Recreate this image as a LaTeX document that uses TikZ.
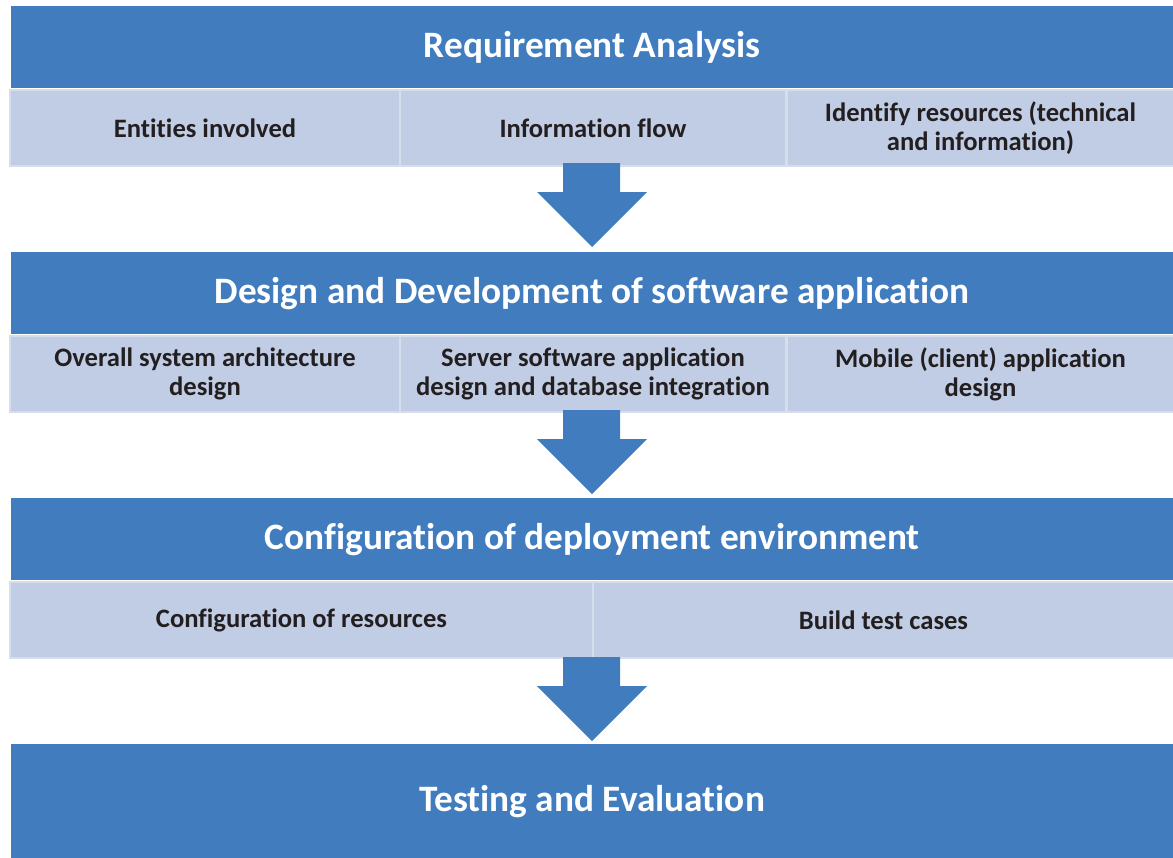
\documentclass[tikz,border=0pt]{standalone}
\usepackage{fontspec}
\setmainfont{Carlito}[Ligatures={NoCommon}]
\definecolor{mainblue}{RGB}{64,124,190}
\definecolor{subfill}{RGB}{192,205,228}
\definecolor{subedge}{RGB}{214,222,237}
\definecolor{txt}{RGB}{35,31,32}
\tikzset{
  titlebox/.style={fill=mainblue, draw=none, inner sep=0pt, text=white,
    font=\bfseries\fontsize{37.3}{42}\selectfont},
  subbox/.style={fill=subfill, draw=subedge, line width=2pt, inner sep=0pt,
    text=txt, align=center, font=\bfseries\fontsize{26.6}{29}\selectfont},
  blockarrow/.style={fill=mainblue, draw=white, line width=0.8pt, line join=miter}
}
\begin{document}
\begin{tikzpicture}[x=1pt,y=-1pt]
\useasboundingbox (0,0) rectangle (1173,857);
% stage 1
\node[titlebox, minimum width=1162pt, minimum height=82pt, anchor=north west] (t1) at (11,6) {Requirement Analysis};
\node[subbox, minimum width=390pt, minimum height=76pt, anchor=north west] (s11) at (9,89) {Entities involved};
\node[subbox, minimum width=386pt, minimum height=76pt, anchor=north west] (s12) at (399,89) {Information flow};
\node[subbox, minimum width=387pt, minimum height=76pt, anchor=north west] (s13) at (786,89) {Identify resources (technical\\and information)};
% stage 2
\node[titlebox, minimum width=1162pt, minimum height=82pt, anchor=north west] (t2) at (11,252) {Design and Development of software application};
\node[subbox, minimum width=390pt, minimum height=76pt, anchor=north west] (s21) at (9,335) {Overall system architecture\\design};
\node[subbox, minimum width=386pt, minimum height=76pt, anchor=north west] (s22) at (399,335) {Server software application\\design and database integration};
\node[subbox, minimum width=387pt, minimum height=76pt, anchor=north west] (s23) at (786,335) {Mobile (client) application\\design};
% stage 3
\node[titlebox, minimum width=1162pt, minimum height=82pt, anchor=north west] (t3) at (11,498) {Configuration of deployment environment};
\node[subbox, minimum width=583pt, minimum height=76pt, anchor=north west] (s31) at (9,581) {Configuration of resources};
\node[subbox, minimum width=581pt, minimum height=76pt, anchor=north west] (s32) at (592,581) {Build test cases};
% stage 4
\node[titlebox, minimum width=1162pt, minimum height=120pt, anchor=north west] (t4) at (11,744) {};
\node[text=white, font=\bfseries\fontsize{37.3}{42}\selectfont] (t4label) at (592,802) {Testing and Evaluation};
% arrows
\foreach \a/\b/\top/\tip in {s12/t2/163/247, s22/t3/410/494, s32/t4/657/741}{
  \fill[mainblue] (563,\top) -- (620,\top) -- (620,\top+29) -- (647,\top+29)
     -- (592,\tip) -- (537,\top+29) -- (563,\top+29) -- cycle;
}
\end{tikzpicture}
\end{document}
